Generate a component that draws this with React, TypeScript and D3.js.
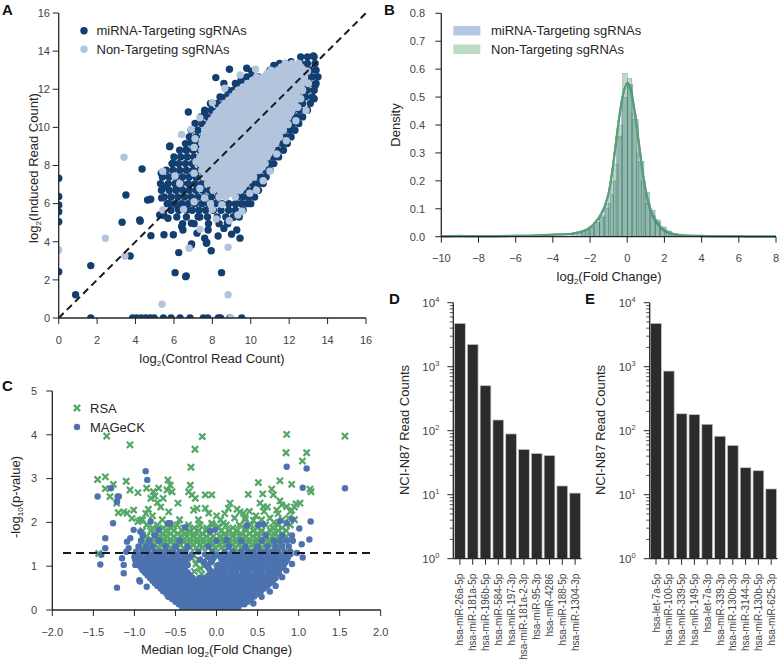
import React from 'react';
import * as d3 from 'd3';

type P = [number, number];
function pairs(s: string): P[] {
  return s.trim().split(/\s+/).map(t => { const [a, b] = t.split(','); return [+a, +b] as P; });
}
function rows(s: string): P[] {
  const out: P[] = [];
  s.trim().split('\n').forEach(line => {
    const [ys, xs] = line.split(':');
    xs.trim().split(/\s+/).forEach(x => out.push([+x, +ys]));
  });
  return out;
}

// ---------------- Panel A data ----------------
const aTicks = [0, 2, 4, 6, 8, 10, 12, 14, 16];
const aDarkOutliers = pairs(`13.26,13.75 8.89,13.05 9.79,13.1 8.18,12.61 8.6,12.3 9.5,12.5 10.05,12.95 11.2,13.25 12.1,13.45 6.75,10.81 5.79,9.02 4.34,7.82 3.5,6.45 4.63,6.19 4.75,6.22 3.3,5.02 4.24,5.08 4.8,4.32 5.48,4.37 3.72,3.25 1.67,2.75 0.88,1.22 6.06,2.38 6.64,2.2 6.25,3.43 6.92,3.88 7.94,3.53 8.48,2.38 9.27,4.62 9.44,4.19 7.71,3.96 7.78,4.62 5.48,5.38 5.36,6.3 5.76,6.0 5.97,4.37 6.4,4.8 6.66,5.66 8.78,4.99 5.26,5.4 5.69,5.23 6.21,5.84 4.79,6.23 4.22,5.14 6.91,3.83 7.6,4.18 6.61,2.17 6.65,8.81 5.95,8.12 6.13,6.89 6.47,4.62 6.91,4.97 7.26,5.31 7.69,3.92 5.34,7.59 5.52,6.89 5.78,8.99 7.6,10.74 6.91,9.34 8.3,4.3 8.6,4.7 9.0,4.4 9.1,5.3 7.2,4.45 13.35,12.2 13.3,11.5 0,7.33 0,6.37 0,5.93 0,5.58 0,5.05 0,2.43 1.67,0 3.85,0 4.06,0 4.3,0 4.53,0 4.76,0 4.97,0 5.45,0 5.85,0 6.32,0 6.84,0 7.53,0 7.76,0 8.31,0 8.43,0 8.92,0 9.53,0`);
const aDarkCore = rows(`
13.7: 12.6 12.95 13.3
13.35: 11.5 11.8 12.6 12.95 13.35
13.0: 11.0 11.3 12.8 13.1 13.4
12.65: 9.8 10.1 10.4 12.9 13.2 13.5
12.3: 9.2 9.5 9.85 12.75 13.05 13.4
11.95: 8.8 9.1 9.4 12.6 12.95 13.3
11.6: 8.4 8.7 9.0 12.5 12.85 13.2
11.25: 7.9 8.25 8.6 12.35 12.7 13.1
10.9: 7.6 7.95 8.3 12.2 12.55 12.95
10.55: 7.4 7.75 8.1 12.05 12.4 12.7
10.2: 7.1 7.45 7.8 11.9 12.2 12.5
9.85: 6.9 7.25 7.6 11.75 12.05 12.3
9.5: 6.8 7.15 7.5 11.55 11.85 12.1
9.15: 6.6 6.95 7.3 11.35 11.65 11.9
8.8: 6.3 6.65 7.0 7.35 11.1 11.4 11.7
8.45: 6.0 6.35 6.7 7.05 7.35 10.95 11.2 11.45
8.1: 5.9 6.25 6.6 6.95 7.3 10.8 11.0 11.2
7.75: 5.6 5.95 6.3 6.65 7.0 7.35 10.5 10.75 11.0
7.4: 5.4 5.75 6.1 6.45 6.8 7.15 7.5 10.2 10.5 10.8
7.05: 5.3 5.7 6.05 6.4 6.75 7.1 7.45 7.75 9.8 10.1 10.4 10.65
6.7: 5.35 5.75 6.1 6.45 6.8 7.15 7.5 7.85 8.15 9.5 9.8 10.1 10.4
6.35: 5.5 5.85 6.2 6.55 6.9 7.25 7.6 7.95 8.3 9.3 9.6 9.9 10.2
6.0: 5.65 6.05 6.4 6.75 7.1 7.45 7.8 8.15 8.5 8.85 9.2 9.5 9.8 10.0
5.65: 5.85 6.25 6.95 7.3 7.65 8.05 8.45 8.85 9.2 9.6
5.3: 6.15 6.65 7.35 7.75 8.25 8.7 9.1 9.4
4.95: 6.45 7.05 7.8 8.35 8.8
`);
const aLightOutliers = pairs(`3.4,8.43 2.43,4.18 3.45,3.25 5.38,0.72 8.82,1.22 8.82,3.71 6.79,3.66 6.4,9.63 5.42,7.7 5.42,5.67 7.36,4.65 8.88,5.1 9.33,5.4 12.88,10.88 8.97,0 0,3.57 7.6,9.86 6.9,9.9 7.05,8.95 6.3,7.05 6.05,7.45 7.05,6.1 7.6,6.3 8.0,5.7 8.5,5.95 9.55,5.6 8.2,5.2 10.3,6.7 11.0,7.7 11.85,9.3 12.35,10.35 12.6,11.5 13.0,12.3 6.5,5.7 7.9,6.0 7.15,8.2 7.1,9.4 7.35,10.5 8.0,11.3 8.65,12.05 9.45,12.75 10.25,13.05 12.95,12.95 12.7,11.95 12.45,11.05 11.95,10.15 11.35,8.6 10.65,7.2 9.95,6.55 7.05,7.6 7.35,6.8`);
const aLightCore = rows(`
13.35: 11.8 12.15 12.5
13.175: 11.6 11.95 12.3 12.6
13.0: 11.05 11.4 11.7 12.05 12.4 12.75
12.825: 10.85 11.2 11.55 11.9 12.25 12.6
12.65: 10.3 10.65 11.0 11.35 11.7 12.05 12.4 12.8
12.475: 10.1 10.45 10.8 11.15 11.5 11.85 12.2 12.55 12.8
12.3: 9.85 10.2 10.55 10.9 11.25 11.6 11.95 12.3 12.65
12.125: 9.6 9.95 10.3 10.65 11.0 11.35 11.7 12.05 12.4 12.6
11.95: 9.35 9.7 10.05 10.4 10.75 11.1 11.45 11.8 12.15 12.5
11.775: 9.2 9.55 9.9 10.25 10.6 10.95 11.3 11.65 12.0 12.35
11.6: 9.05 9.4 9.75 10.1 10.45 10.8 11.15 11.5 11.85 12.2 12.45
11.425: 8.85 9.2 9.55 9.9 10.25 10.6 10.95 11.3 11.65 12.0 12.3
11.25: 8.65 9.0 9.35 9.7 10.05 10.4 10.75 11.1 11.45 11.8 12.15 12.3
11.075: 8.5 8.85 9.2 9.55 9.9 10.25 10.6 10.95 11.3 11.65 12.0 12.2
10.9: 8.35 8.7 9.05 9.4 9.75 10.1 10.45 10.8 11.15 11.5 11.85 12.15
10.725: 8.2 8.55 8.9 9.25 9.6 9.95 10.3 10.65 11.0 11.35 11.7 12.05
10.55: 8.1 8.45 8.8 9.15 9.5 9.85 10.2 10.55 10.9 11.25 11.6 11.95
10.375: 7.95 8.3 8.65 9.0 9.35 9.7 10.05 10.4 10.75 11.1 11.45 11.8
10.2: 7.85 8.2 8.55 8.9 9.25 9.6 9.95 10.3 10.65 11.0 11.35 11.7 11.85
10.025: 7.75 8.1 8.45 8.8 9.15 9.5 9.85 10.2 10.55 10.9 11.25 11.6
9.85: 7.65 8.0 8.35 8.7 9.05 9.4 9.75 10.1 10.45 10.8 11.15 11.5 11.7
9.675: 7.6 7.95 8.3 8.65 9.0 9.35 9.7 10.05 10.4 10.75 11.1 11.45
9.5: 7.55 7.9 8.25 8.6 8.95 9.3 9.65 10.0 10.35 10.7 11.05 11.4 11.5
9.325: 7.5 7.85 8.2 8.55 8.9 9.25 9.6 9.95 10.3 10.65 11.0 11.35
9.15: 7.45 7.8 8.15 8.5 8.85 9.2 9.55 9.9 10.25 10.6 10.95 11.3
8.975: 7.6 7.95 8.3 8.65 9.0 9.35 9.7 10.05 10.4 10.75 11.1
8.8: 7.45 7.8 8.15 8.5 8.85 9.2 9.55 9.9 10.25 10.6 10.95 11.05
8.625: 7.5 7.85 8.2 8.55 8.9 9.25 9.6 9.95 10.3 10.65 10.95
8.45: 7.35 7.7 8.05 8.4 8.75 9.1 9.45 9.8 10.15 10.5 10.85
8.275: 7.5 7.85 8.2 8.55 8.9 9.25 9.6 9.95 10.3 10.65
8.1: 7.35 7.7 8.05 8.4 8.75 9.1 9.45 9.8 10.15 10.5 10.75
7.925: 7.55 7.9 8.25 8.6 8.95 9.3 9.65 10.0 10.35 10.6
7.75: 7.45 7.8 8.15 8.5 8.85 9.2 9.55 9.9 10.25 10.45
7.575: 7.7 8.05 8.4 8.75 9.1 9.45 9.8 10.1
7.4: 7.55 7.9 8.25 8.6 8.95 9.3 9.65 10.0 10.15
7.225: 7.9 8.25 8.6 8.95 9.3 9.65 9.9
7.05: 7.75 8.1 8.45 8.8 9.15 9.5 9.75
6.875: 8.2 8.55 8.9 9.25 9.6
6.7: 8.05 8.4 8.75 9.1 9.45
6.525: 8.5 8.9
6.35: 8.35 8.7 9.2
`);

// ---------------- Panel B data ----------------
const bTicksX = [-10, -8, -6, -4, -2, 0, 2, 4, 6, 8];
const bTicksY = [0, 0.1, 0.2, 0.3, 0.4, 0.5, 0.6, 0.7, 0.8];
const bBlueBinWidth = 0.3;
const bBlueBinLeft = [-3.0, -2.7, -2.4, -2.1, -1.8, -1.5, -1.2, -0.9, -0.6, -0.3, 0, 0.3, 0.6, 0.9, 1.2, 1.5, 1.8, 2.1, 2.4, 2.7];
const bBlueBinHeight = [0.008, 0.015, 0.022, 0.035, 0.05, 0.075, 0.12, 0.2, 0.36, 0.5, 0.545, 0.42, 0.27, 0.16, 0.095, 0.06, 0.035, 0.02, 0.012, 0.006];
const bGreenBinWidth = 0.25;
const bGreenBinLeft = [-2.5, -2.25, -2, -1.75, -1.5, -1.25, -1, -0.75, -0.5, -0.25, 0, 0.25, 0.5, 0.75, 1, 1.25, 1.5, 1.75, 2, 2.25];
const bGreenBinHeight = [0.018, 0.026, 0.035, 0.05, 0.07, 0.1, 0.15, 0.26, 0.4, 0.585, 0.567, 0.44, 0.3, 0.2, 0.12, 0.075, 0.05, 0.03, 0.02, 0.01];
const bKdeX = [-10, -9.5, -9, -8.5, -8, -7.5, -7, -6.5, -6, -5.5, -5, -4.5, -4, -3.5, -3, -2.75, -2.5, -2.25, -2, -1.8, -1.6, -1.4, -1.2, -1, -0.8, -0.6, -0.4, -0.2, 0, 0.2, 0.4, 0.6, 0.8, 1, 1.2, 1.4, 1.6, 1.8, 2, 2.25, 2.5, 2.75, 3, 3.5, 4, 4.5, 5, 5.5, 6, 6.5, 7, 7.5, 8];
const bKdeBlue = [0.002, 0.002, 0.002, 0.002, 0.002, 0.002, 0.002, 0.002, 0.003, 0.003, 0.004, 0.005, 0.007, 0.008, 0.01, 0.013, 0.017, 0.023, 0.033, 0.045, 0.06, 0.08, 0.11, 0.155, 0.235, 0.34, 0.44, 0.515, 0.55, 0.525, 0.45, 0.35, 0.245, 0.16, 0.105, 0.07, 0.048, 0.032, 0.022, 0.014, 0.009, 0.006, 0.004, 0.003, 0.003, 0.002, 0.002, 0.002, 0.002, 0.001, 0.001, 0.001, 0.001];
const bKdeGreen = [0.001, 0.002, 0.003, 0.002, 0.002, 0.002, 0.002, 0.003, 0.003, 0.003, 0.004, 0.006, 0.008, 0.009, 0.011, 0.014, 0.018, 0.024, 0.034, 0.046, 0.062, 0.083, 0.113, 0.158, 0.24, 0.345, 0.445, 0.52, 0.545, 0.515, 0.44, 0.345, 0.245, 0.165, 0.112, 0.077, 0.054, 0.036, 0.025, 0.016, 0.01, 0.007, 0.005, 0.003, 0.002, 0.002, 0.002, 0.001, 0.001, 0.001, 0.001, 0.001, 0.001];

// ---------------- Panel C data ----------------
const cTicksX = [-2, -1.5, -1, -0.5, 0, 0.5, 1, 1.5, 2];
const cTicksY = [0, 1, 2, 3, 4, 5];
const cThreshold = 1.3;
const cGreenOutliers = pairs(`-1.338,3.97 -1.054,3.77 -0.173,3.96 -0.262,3.67 -0.311,3.26 0.855,4.01 0.847,3.59 1.098,3.59 1.046,3.40 1.565,3.97 -1.448,2.98 -1.354,3.04 -1.354,2.77 -1.257,2.87 -1.297,2.59 -1.216,2.44 -1.1,2.94 -1.054,2.74 -1.196,2.22 -1.13,2.24 -1.09,2.21 -1.009,2.28 -1.029,2.09 -0.956,2.02 -0.928,2.05 -0.704,2.78 -0.591,2.97 -0.563,2.85 -0.603,2.74 -0.542,2.70 -0.469,2.44 -0.582,2.24 -0.319,2.85 -0.339,2.70 -0.298,2.63 -0.258,2.55 -0.238,2.32 -0.278,2.28 -0.136,2.63 -0.136,2.32 -0.095,2.21 -0.058,2.63 -0.851,2.78 -0.956,2.68 -0.8,2.55 -0.77,2.7 -0.75,2.6 -0.72,2.45 -0.68,2.35 -0.65,2.55 -0.83,2.3 -0.86,2.2 -0.78,2.15 0.51,2.91 0.773,2.95 0.916,2.87 0.387,2.64 0.563,2.65 0.672,2.76 0.692,2.63 0.773,2.49 0.794,2.40 0.733,2.28 0.855,2.36 0.916,2.28 1.017,2.44 1.139,2.76 1.151,2.70 0.53,2.44 0.57,2.36 0.326,2.21 0.286,2.24 0.164,2.44 0.144,2.32 0.083,1.98 0.022,1.90 -0.058,1.98 0.97,2.42 0.95,2.35 0.9,2.25 0.75,2.2 0.62,2.35 0.58,2.25 0.48,2.15 0.4,2.25 0.35,2.1 0.25,2.3 0.1,2.2 0.0,2.15 0.22,2.1 0.45,2.05 0.65,2.1 0.7,2.0 0.88,2.1 -1.435,1.29 -0.28,1.25 -0.22,1.15 -0.25,1.05 -0.2,0.95 -0.27,0.88 -0.18,0.82 -0.12,1.2 -0.05,1.1 0.0,0.95 0.05,1.25 -0.15,1.0 -0.3,1.18 0.3,1.25 0.45,1.2 -0.55,1.25 -0.7,1.2`);
const cGreenCore = rows(`
1.42: -0.9 -0.8 -0.7 -0.62 -0.55 -0.48 -0.4 -0.32 -0.25 -0.18 -0.1 -0.02 0.06 0.14 0.22 0.3 0.38 0.46 0.54 0.62 0.7 0.78
1.485: -0.84 -0.76 -0.68 -0.6 -0.52 -0.44 -0.36 -0.28 -0.2 -0.12 -0.04 0.04 0.12 0.2 0.28 0.36 0.44 0.52 0.6 0.68 0.76
1.55: -0.88 -0.8 -0.72 -0.64 -0.56 -0.48 -0.4 -0.32 -0.24 -0.16 -0.08 0.0 0.08 0.16 0.24 0.32 0.4 0.48 0.56 0.64 0.72 0.8
1.615: -0.8 -0.72 -0.64 -0.56 -0.48 -0.4 -0.32 -0.24 -0.16 -0.08 0.0 0.08 0.16 0.24 0.32 0.4 0.48 0.56 0.64 0.72 0.8
1.68: -0.85 -0.76 -0.68 -0.6 -0.52 -0.44 -0.36 -0.28 -0.2 -0.12 -0.04 0.04 0.12 0.2 0.28 0.36 0.44 0.52 0.6 0.68 0.76 0.85
1.745: -0.75 -0.66 -0.56 -0.47 -0.38 -0.28 -0.17 -0.07 0.1 0.2 0.3 0.4 0.5 0.6 0.7 0.8
1.81: -0.9 -0.8 -0.7 -0.62 -0.52 -0.42 -0.33 -0.22 -0.12 0.06 0.15 0.25 0.36 0.45 0.55 0.66 0.75 0.85
1.875: -0.78 -0.65 -0.55 -0.4 -0.27 -0.12 0.02 0.2 0.35 0.5 0.68 0.8
1.94: -0.85 -0.72 -0.6 -0.48 -0.34 -0.2 -0.05 0.12 0.28 0.42 0.6 0.75 0.9
2.06: -0.9 -0.66 -0.45 -0.22 0.05 0.35 0.55 0.8 0.95
`);
const cBlueCore = rows(`
0.02: -0.36 -0.29 -0.21 -0.14 -0.06 0.01 0.09 0.16 0.23
0.07: -0.42 -0.33 -0.25 -0.18 -0.1 -0.03 0.05 0.12 0.2 0.27
0.13: -0.46 -0.39 -0.31 -0.24 -0.16 -0.09 -0.01 0.06 0.14 0.21 0.29 0.34
0.19: -0.5 -0.43 -0.35 -0.28 -0.2 -0.13 -0.05 0.02 0.1 0.17 0.25 0.32 0.38
0.25: -0.54 -0.47 -0.39 -0.32 -0.24 -0.17 -0.09 -0.02 0.06 0.13 0.21 0.28 0.36 0.42
0.31: -0.58 -0.5 -0.43 -0.35 -0.28 -0.2 -0.13 -0.05 0.02 0.1 0.17 0.25 0.32 0.4 0.46
0.37: -0.61 -0.54 -0.46 -0.39 -0.31 -0.24 -0.16 -0.09 -0.01 0.06 0.14 0.21 0.29 0.36 0.44 0.5
0.43: -0.65 -0.57 -0.5 -0.42 -0.35 -0.27 -0.2 -0.12 -0.05 0.03 0.1 0.18 0.25 0.33 0.4 0.48 0.54
0.49: -0.68 -0.61 -0.53 -0.46 -0.38 -0.31 -0.23 -0.16 -0.08 -0.01 0.07 0.14 0.22 0.29 0.37 0.44 0.52 0.58
0.55: -0.72 -0.64 -0.57 -0.49 -0.42 -0.34 -0.27 -0.19 -0.12 -0.04 0.03 0.11 0.18 0.26 0.33 0.41 0.48 0.56 0.62
0.61: -0.75 -0.68 -0.6 -0.53 -0.45 -0.38 -0.3 -0.23 -0.15 -0.08 0.0 0.07 0.15 0.22 0.3 0.37 0.45 0.52 0.6 0.65
0.67: -0.78 -0.71 -0.63 -0.56 -0.48 -0.41 -0.33 -0.26 -0.18 -0.11 -0.03 0.04 0.12 0.19 0.27 0.34 0.42 0.49 0.57 0.64 0.69
0.73: -0.81 -0.74 -0.66 -0.59 -0.51 -0.44 -0.36 -0.29 -0.21 -0.14 -0.06 0.01 0.09 0.16 0.24 0.31 0.39 0.46 0.54 0.61 0.69 0.72
0.79: -0.84 -0.77 -0.69 -0.62 -0.54 -0.47 -0.39 -0.32 -0.1 -0.02 0.05 0.13 0.2 0.28 0.35 0.43 0.5 0.58 0.65 0.72
0.85: -0.87 -0.8 -0.72 -0.65 -0.57 -0.5 -0.42 -0.35 -0.06 0.02 0.09 0.17 0.24 0.32 0.39 0.47 0.54 0.62 0.69 0.76
0.91: -0.9 -0.83 -0.75 -0.68 -0.6 -0.53 -0.45 -0.38 -0.08 0.0 0.09 0.17 0.24 0.32 0.39 0.47 0.54 0.62 0.69 0.76
0.97: -0.92 -0.85 -0.77 -0.7 -0.62 -0.55 -0.47 -0.4 -0.1 0.05 0.13 0.2 0.28 0.35 0.43 0.5 0.58 0.65 0.73 0.8
1.03: -0.95 -0.88 -0.8 -0.73 -0.65 -0.58 -0.5 -0.43 -0.35 -0.12 0.02 0.09 0.17 0.24 0.32 0.39 0.47 0.54 0.62 0.69 0.77 0.82
1.09: -0.97 -0.9 -0.82 -0.75 -0.67 -0.6 -0.52 -0.45 -0.37 -0.15 -0.07 0.1 0.18 0.25 0.33 0.4 0.48 0.55 0.63 0.7 0.78 0.84
1.15: -0.99 -0.91 -0.84 -0.76 -0.69 -0.61 -0.54 -0.46 -0.39 -0.2 -0.05 0.06 0.14 0.21 0.29 0.36 0.44 0.51 0.59 0.66 0.74 0.81 0.86
1.21: -1.0 -0.93 -0.85 -0.78 -0.7 -0.63 -0.55 -0.48 -0.4 -0.33 -0.1 -0.03 0.05 0.12 0.2 0.27 0.35 0.42 0.5 0.57 0.65 0.72 0.8 0.87
1.27: -0.99 -0.92 -0.84 -0.77 -0.69 -0.62 -0.54 -0.47 -0.39 -0.3 -0.14 0.0 0.08 0.16 0.24 0.31 0.39 0.46 0.54 0.61 0.69 0.76 0.84 0.9
1.33: -0.98 -0.9 -0.83 -0.75 -0.68 -0.6 -0.53 -0.45 -0.38 -0.22 -0.05 0.1 0.2 0.3 0.38 0.45 0.53 0.6 0.68 0.75 0.83 0.9
1.45: -0.95 -0.86 -0.78 -0.62 -0.5 -0.35 -0.1 0.15 0.35 0.5 0.62 0.72 0.8 0.88
1.58: -0.92 -0.82 -0.7 -0.45 0.0 0.3 0.55 0.7 0.78 0.86 0.93
1.7: -0.9 -0.75 0.6 0.8 0.92
`);
const cBlueOutliers = pairs(`-1.448,2.59 -1.285,2.78 -1.204,2.59 -1.19,2.59 -1.212,2.47 -0.863,3.17 -0.843,2.97 0.855,3.27 1.098,3.23 1.05,2.79 1.565,2.78 1.147,2.02 1.009,1.86 1.131,1.61 1.038,1.5 0.924,2.07 0.774,2.03 0.855,1.98 0.368,1.93 0.51,1.94 0.57,1.96 -0.079,1.8 -0.018,1.83 0.124,1.6 -0.38,1.89 -0.587,1.98 -0.802,2.02 -1.26,1.98 -1.355,1.64 -1.355,1.41 -1.403,1.26 -1.415,1.04 -1.212,0.51 -1.151,1.18 -1.13,1.03 -1.13,0.84 -1.09,1.56 -1.07,1.41 -1.099,1.33 -0.94,0.68 -0.867,0.87 -1.009,1.83 -0.928,1.79 -0.704,1.83 -0.563,1.98 -0.85,0.53 -0.587,0.3 -0.989,1.03 -0.932,0.65 -1.05,1.64 0.98,1.3 1.05,1.2 0.92,1.05 0.85,0.9 0.8,0.75 0.72,0.55 0.65,0.42 0.55,0.3 0.45,0.15`);

// ---------------- Panels D / E data ----------------
const dNames = ['hsa-miR-26a-5p', 'hsa-miR-181a-5p', 'hsa-miR-196b-5p', 'hsa-miR-584-5p', 'hsa-miR-197-3p', 'hsa-miR-181a-2-3p', 'hsa-miR-95-3p', 'hsa-miR-4286', 'hsa-miR-188-5p', 'hsa-miR-1304-3p'];
const dValues = [4750, 2230, 505, 147, 89, 51, 44, 41, 13.7, 10.6];
const eNames = ['hsa-let-7a-5p', 'hsa-miR-100-5p', 'hsa-miR-339-5p', 'hsa-miR-149-5p', 'hsa-let-7a-3p', 'hsa-miR-339-3p', 'hsa-miR-130b-3p', 'hsa-miR-3144-3p', 'hsa-miR-130b-5p', 'hsa-miR-625-3p'];
const eValues = [4750, 855, 184, 178, 126, 82, 59, 26.4, 23.7, 12.3];
const logMajor = [1, 10, 100, 1000, 10000];

// ---------------- styling ----------------
const FONT = '"Liberation Sans", Arial, Helvetica, sans-serif';
const SPINE = '#262626';
const TICKC = '#444';
const LABELC = '#262626';
const A_DARK = '#123f70';
const A_LIGHT = '#b3c5dc';
const BLUE = '#4c72b0';
const GREEN = '#55a868';
const TICK = 6;

const minus = (s: string) => s.replace('-', '\u2212');

function Sub({ base, sub, rest, size }: { base: string; sub: string; rest: string; size: number }) {
  return (
    <>
      {base}
      <tspan fontSize={size * 0.62} dy={size * 0.22}>{sub}</tspan>
      <tspan dy={-size * 0.22}>{rest}</tspan>
    </>
  );
}

function XMark({ x, y, s = 3.1, w = 2.3, color = GREEN }: { x: number; y: number; s?: number; w?: number; color?: string }) {
  return <path d={`M${x - s},${y - s}L${x + s},${y + s}M${x - s},${y + s}L${x + s},${y - s}`} stroke={color} strokeWidth={w} fill="none" />;
}

export default function App() {
  const xA = d3.scaleLinear().domain([0, 16]).range([58.7, 366]);
  const yA = d3.scaleLinear().domain([0, 16]).range([318, 13]);
  const xB = d3.scaleLinear().domain([-10, 8]).range([441.3, 776]);
  const yB = d3.scaleLinear().domain([0, 0.8]).range([236.7, 13.3]);
  const xC = d3.scaleLinear().domain([-2, 2]).range([52.3, 380.7]);
  const yC = d3.scaleLinear().domain([0, 5]).range([610, 391]);
  const yL = d3.scaleLog().domain([1, 10000]).range([558.7, 302.7]);
  const xD = d3.scaleBand<string>().domain(dNames).range([453.5, 581.5]).paddingInner(0.16).paddingOuter(0.08);
  const xE = d3.scaleBand<string>().domain(eNames).range([649.6, 777.6]).paddingInner(0.16).paddingOuter(0.08);

  const lineB = (ys: number[]) => d3.line<number>().x((_, i) => xB(bKdeX[i])).y(d => yB(d)).curve(d3.curveMonotoneX)(ys) || '';

  const fmtB = (d: number) => minus(String(d));
  const fmtC = (d: number) => minus(d.toFixed(1));

  const barPanel = (names: string[], values: number[], xS: d3.ScaleBand<string>, axisX: number, labelX: number) => {
    const x1 = xS.range()[1];
    const minors = yL.ticks().filter(t => !logMajor.includes(t));
    return (
      <g>
        {names.map((n, i) => (
          <rect key={n} x={xS(n)} width={xS.bandwidth()} y={yL(values[i])} height={yL(1) - yL(values[i])} fill="#2b2b2b" stroke="#c8c8c8" strokeWidth={0.7} />
        ))}
        <line x1={axisX} x2={axisX} y1={yL(1)} y2={yL(10000)} stroke={SPINE} strokeWidth={1.3} />
        <line x1={axisX} x2={x1} y1={yL(1)} y2={yL(1)} stroke={SPINE} strokeWidth={1.3} />
        {logMajor.map((t, i) => (
          <g key={t}>
            <line x1={axisX - TICK} x2={axisX} y1={yL(t)} y2={yL(t)} stroke={SPINE} strokeWidth={1} />
            <text x={axisX - 14} y={yL(t)} dy="0.35em" textAnchor="end" fontSize={11.5} fill={TICKC}>
              10<tspan fontSize={7.5} dy={-5}>{i}</tspan>
            </text>
          </g>
        ))}
        {minors.map(t => (
          <line key={t} x1={axisX - 3.5} x2={axisX} y1={yL(t)} y2={yL(t)} stroke={SPINE} strokeWidth={0.8} />
        ))}
        {names.map(n => {
          const cx = (xS(n) as number) + xS.bandwidth() / 2;
          return (
            <g key={n}>
              <line x1={cx} x2={cx} y1={yL(1)} y2={yL(1) + TICK} stroke={SPINE} strokeWidth={1} />
              <text transform={`translate(${cx},${yL(1) + 15}) rotate(-90)`} textAnchor="end" dominantBaseline="central" fontSize={10} fill={TICKC}>{n}</text>
            </g>
          );
        })}
        <text transform={`translate(${labelX},430) rotate(-90)`} textAnchor="middle" fontSize={13} fill={LABELC}>NCI-N87 Read Counts</text>
      </g>
    );
  };

  return (
    <svg width={780} height={667} style={{ position: 'absolute', left: 0, top: 0, background: '#fff' }} fontFamily={FONT}>
      <defs>
        <clipPath id="clipA"><rect x={xA(0)} y={yA(16)} width={xA(16) - xA(0)} height={yA(0) - yA(16)} /></clipPath>
        <clipPath id="clipC"><rect x={xC(-2)} y={yC(5)} width={xC(2) - xC(-2)} height={yC(0) - yC(5)} /></clipPath>
      </defs>
      <rect x={0} y={0} width={780} height={667} fill="#fff" />

      {/* ================= Panel A ================= */}
      <g clipPath="url(#clipA)">
        {aDarkCore.concat(aDarkOutliers).map((p, i) => (
          <circle key={'ad' + i} cx={xA(p[0])} cy={yA(p[1])} r={3.7} fill={A_DARK} />
        ))}
        {aLightCore.concat(aLightOutliers).map((p, i) => (
          <circle key={'al' + i} cx={xA(p[0])} cy={yA(p[1])} r={3.7} fill={A_LIGHT} />
        ))}
      </g>
      <line x1={xA(0)} y1={yA(0)} x2={xA(16)} y2={yA(16)} stroke="#1a1a1a" strokeWidth={2} strokeDasharray="7,4.5" />
      <line x1={xA(0)} x2={xA(0)} y1={yA(0)} y2={yA(16)} stroke={SPINE} strokeWidth={1.3} />
      <line x1={xA(0)} x2={xA(16)} y1={yA(0)} y2={yA(0)} stroke={SPINE} strokeWidth={1.3} />
      {aTicks.map(t => (
        <g key={'atx' + t}>
          <line x1={xA(t)} x2={xA(t)} y1={yA(0)} y2={yA(0) + TICK} stroke={SPINE} strokeWidth={1} />
          <text x={xA(t)} y={344} textAnchor="middle" fontSize={11} fill={TICKC}>{t}</text>
          <line x1={xA(0) - TICK} x2={xA(0)} y1={yA(t)} y2={yA(t)} stroke={SPINE} strokeWidth={1} />
          <text x={50} y={yA(t)} dy="0.35em" textAnchor="end" fontSize={11} fill={TICKC}>{t}</text>
        </g>
      ))}
      <text x={212} y={363} textAnchor="middle" fontSize={13} fill={LABELC}>
        <Sub base="log" sub="2" rest="(Control Read Count)" size={13} />
      </text>
      <text transform="translate(38,168) rotate(-90)" textAnchor="middle" fontSize={13} fill={LABELC}>
        <Sub base="log" sub="2" rest="(Induced Read Count)" size={13} />
      </text>
      <circle cx={84} cy={30.7} r={3.7} fill={A_DARK} />
      <text x={96.5} y={30.7} dy="0.35em" fontSize={13} fill={LABELC}>miRNA-Targeting sgRNAs</text>
      <circle cx={84} cy={49.3} r={3.7} fill={A_LIGHT} />
      <text x={96.5} y={49.3} dy="0.35em" fontSize={13} fill={LABELC}>Non-Targeting sgRNAs</text>
      <text x={2} y={15} fontSize={15} fontWeight="bold" fill="#111">A</text>

      {/* ================= Panel B ================= */}
      {bBlueBinLeft.map((l, i) => (
        <rect key={'bb' + i} x={xB(l)} width={xB(l + bBlueBinWidth) - xB(l)} y={yB(bBlueBinHeight[i])} height={yB(0) - yB(bBlueBinHeight[i])} fill={BLUE} fillOpacity={0.4} stroke="#2d3d55" strokeOpacity={0.45} strokeWidth={0.5} />
      ))}
      {bGreenBinLeft.map((l, i) => (
        <rect key={'bg' + i} x={xB(l)} width={xB(l + bGreenBinWidth) - xB(l)} y={yB(bGreenBinHeight[i])} height={yB(0) - yB(bGreenBinHeight[i])} fill={GREEN} fillOpacity={0.4} stroke="#2d4d35" strokeOpacity={0.45} strokeWidth={0.5} />
      ))}
      <path d={lineB(bKdeBlue)} fill="none" stroke={BLUE} strokeWidth={2} />
      <path d={lineB(bKdeGreen)} fill="none" stroke={GREEN} strokeWidth={2} />
      <line x1={xB(-10)} x2={xB(-10)} y1={yB(0)} y2={yB(0.8)} stroke={SPINE} strokeWidth={1.3} />
      <line x1={xB(-10)} x2={xB(8)} y1={yB(0)} y2={yB(0)} stroke={SPINE} strokeWidth={1.3} />
      {bTicksX.map(t => (
        <g key={'btx' + t}>
          <line x1={xB(t)} x2={xB(t)} y1={yB(0)} y2={yB(0) + TICK} stroke={SPINE} strokeWidth={1} />
          <text x={xB(t)} y={262} textAnchor="middle" fontSize={11} fill={TICKC}>{fmtB(t)}</text>
        </g>
      ))}
      {bTicksY.map(t => (
        <g key={'bty' + t}>
          <line x1={xB(-10) - TICK} x2={xB(-10)} y1={yB(t)} y2={yB(t)} stroke={SPINE} strokeWidth={1} />
          <text x={425} y={yB(t)} dy="0.35em" textAnchor="end" fontSize={11} fill={TICKC}>{t.toFixed(1)}</text>
        </g>
      ))}
      <text x={609} y={281} textAnchor="middle" fontSize={13} fill={LABELC}>
        <Sub base="log" sub="2" rest="(Fold Change)" size={13} />
      </text>
      <text transform="translate(400,125) rotate(-90)" textAnchor="middle" fontSize={13} fill={LABELC}>Density</text>
      <rect x={453.3} y={26} width={27} height={9.5} fill={BLUE} fillOpacity={0.4} />
      <text x={491} y={30.7} dy="0.35em" fontSize={13} fill={LABELC}>miRNA-Targeting sgRNAs</text>
      <rect x={453.3} y={44.5} width={27} height={9.5} fill={GREEN} fillOpacity={0.4} />
      <text x={491} y={49.3} dy="0.35em" fontSize={13} fill={LABELC}>Non-Targeting sgRNAs</text>
      <text x={384} y={15} fontSize={15} fontWeight="bold" fill="#111">B</text>

      {/* ================= Panel C ================= */}
      <g clipPath="url(#clipC)">
        {cGreenCore.concat(cGreenOutliers).map((p, i) => (
          <XMark key={'cg' + i} x={xC(p[0])} y={yC(p[1])} />
        ))}
        {cBlueCore.concat(cBlueOutliers).map((p, i) => (
          <circle key={'cb' + i} cx={xC(p[0])} cy={yC(p[1])} r={3.2} fill={BLUE} />
        ))}
      </g>
      <line x1={xC(-1.87)} x2={xC(1.93)} y1={yC(cThreshold)} y2={yC(cThreshold)} stroke="#1a1a1a" strokeWidth={2} strokeDasharray="8,5" />
      <line x1={xC(-2)} x2={xC(-2)} y1={yC(0)} y2={yC(5)} stroke={SPINE} strokeWidth={1.3} />
      <line x1={xC(-2)} x2={xC(2)} y1={yC(0)} y2={yC(0)} stroke={SPINE} strokeWidth={1.3} />
      {cTicksX.map(t => (
        <g key={'ctx' + t}>
          <line x1={xC(t)} x2={xC(t)} y1={yC(0)} y2={yC(0) + TICK} stroke={SPINE} strokeWidth={1} />
          <text x={xC(t)} y={636} textAnchor="middle" fontSize={11} fill={TICKC}>{fmtC(t)}</text>
        </g>
      ))}
      {cTicksY.map(t => (
        <g key={'cty' + t}>
          <line x1={xC(-2) - TICK} x2={xC(-2)} y1={yC(t)} y2={yC(t)} stroke={SPINE} strokeWidth={1} />
          <text x={37} y={yC(t)} dy="0.35em" textAnchor="end" fontSize={11} fill={TICKC}>{t}</text>
        </g>
      ))}
      <text x={216.5} y={654} textAnchor="middle" fontSize={13} fill={LABELC}>
        <Sub base="Median log" sub="2" rest="(Fold Change)" size={13} />
      </text>
      <text transform="translate(20,497) rotate(-90)" textAnchor="middle" fontSize={13} fill={LABELC}>
        <Sub base="-log" sub="10" rest="(p-value)" size={13} />
      </text>
      <XMark x={77} y={408} />
      <text x={90} y={408} dy="0.35em" fontSize={13} fill={LABELC}>RSA</text>
      <circle cx={77} cy={427} r={3.2} fill={BLUE} />
      <text x={90} y={427} dy="0.35em" fontSize={13} fill={LABELC}>MAGeCK</text>
      <text x={2} y={391} fontSize={15} fontWeight="bold" fill="#111">C</text>

      {/* ================= Panel D ================= */}
      {barPanel(dNames, dValues, xD, 453.3, 409)}
      <text x={389} y={304} fontSize={15} fontWeight="bold" fill="#111">D</text>

      {/* ================= Panel E ================= */}
      {barPanel(eNames, eValues, xE, 649.7, 605)}
      <text x={585} y={304} fontSize={15} fontWeight="bold" fill="#111">E</text>
    </svg>
  );
}
